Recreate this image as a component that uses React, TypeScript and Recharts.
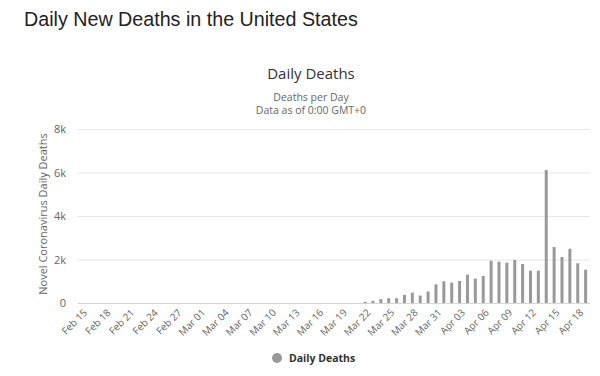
import { Bar, BarChart, CartesianGrid, XAxis, YAxis } from 'recharts';

// Feb 15 .. Apr 19, 2020
const dates = [
  'Feb 15', 'Feb 16', 'Feb 17', 'Feb 18', 'Feb 19', 'Feb 20', 'Feb 21', 'Feb 22', 'Feb 23', 'Feb 24',
  'Feb 25', 'Feb 26', 'Feb 27', 'Feb 28', 'Feb 29', 'Mar 01', 'Mar 02', 'Mar 03', 'Mar 04', 'Mar 05',
  'Mar 06', 'Mar 07', 'Mar 08', 'Mar 09', 'Mar 10', 'Mar 11', 'Mar 12', 'Mar 13', 'Mar 14', 'Mar 15',
  'Mar 16', 'Mar 17', 'Mar 18', 'Mar 19', 'Mar 20', 'Mar 21', 'Mar 22', 'Mar 23', 'Mar 24', 'Mar 25',
  'Mar 26', 'Mar 27', 'Mar 28', 'Mar 29', 'Mar 30', 'Mar 31', 'Apr 01', 'Apr 02', 'Apr 03', 'Apr 04',
  'Apr 05', 'Apr 06', 'Apr 07', 'Apr 08', 'Apr 09', 'Apr 10', 'Apr 11', 'Apr 12', 'Apr 13', 'Apr 14',
  'Apr 15', 'Apr 16', 'Apr 17', 'Apr 18', 'Apr 19',
];

const dailyDeaths = [
  0, 0, 0, 0, 0, 0, 0, 0, 0, 0,
  0, 0, 0, 0, 0, 0, 0, 0, 0, 0,
  0, 0, 0, 0, 0, 0, 0, 0, 0, 0,
  0, 0, 0, 0, 0, 0, 76, 122, 198, 244,
  244, 397, 504, 366, 550, 885, 1023, 962, 1038, 1328,
  1145, 1267, 1969, 1924, 1878, 2000, 1817, 1511, 1511, 6137,
  2595, 2137, 2519, 1847, 1557,
];

const yTicks = [0, 2000, 4000, 6000, 8000];

const data = dates.map((date, i) => ({ date, deaths: dailyDeaths[i] }));

const chartFont = '"Open Sans", "DejaVu Sans", sans-serif';

function DateTick(props: any) {
  const { x, y, payload } = props;
  return (
    <g transform={`translate(${x + 3},${y - 1})`}>
      <text
        x={0}
        y={0}
        dy={4}
        textAnchor="end"
        transform="rotate(-45)"
        fontSize={10}
        fill="#666"
        fontFamily={chartFont}
      >
        {payload.value}
      </text>
    </g>
  );
}

export default function App() {
  return (
    <div style={{ position: 'relative', width: 600, height: 376, background: '#fff', fontFamily: chartFont }}>
      <style>{'body{margin:0}'}</style>
      <div
        style={{
          position: 'absolute',
          left: 24,
          top: 8,
          fontFamily: '"Liberation Sans", Arial, sans-serif',
          fontSize: 19.7,
          color: '#222',
          whiteSpace: 'nowrap',
        }}
      >
        Daily New Deaths in the United States
      </div>
      <div style={{ position: 'absolute', left: 0, width: 622, top: 63, textAlign: 'center', fontSize: 15, color: '#333' }}>
        Daily Deaths
      </div>
      <div
        style={{
          position: 'absolute',
          left: 0,
          width: 622,
          top: 91,
          textAlign: 'center',
          fontSize: 10.5,
          lineHeight: '13px',
          color: '#666',
        }}
      >
        Deaths per Day
      </div>
      <div
        style={{
          position: 'absolute',
          left: 0,
          width: 622,
          top: 104,
          textAlign: 'center',
          fontSize: 10.5,
          lineHeight: '13px',
          color: '#666',
        }}
      >
        Data as of 0:00 GMT+0
      </div>
      <div
        style={{
          position: 'absolute',
          left: 42,
          top: 214,
          transform: 'translate(-50%, -50%) rotate(-90deg)',
          fontSize: 11,
          color: '#666',
          whiteSpace: 'nowrap',
        }}
      >
        Novel Coronavirus Daily Deaths
      </div>
      <div style={{ position: 'absolute', top: 0, left: 0 }}>
        <BarChart width={600} height={376} data={data} margin={{ top: 129.5, right: 10, left: 0, bottom: 32.5 }}>
          <CartesianGrid vertical={false} stroke="#e6e6e6" />
          <XAxis
            dataKey="date"
            interval={2}
            height={40}
            tickLine={false}
            axisLine={{ stroke: '#ccd6eb' }}
            tick={<DateTick />}
          />
          <YAxis
            width={78}
            domain={[0, 8000]}
            ticks={yTicks}
            axisLine={false}
            tickLine={false}
            tickMargin={6}
            tick={{ fontSize: 11, fill: '#666', fontFamily: chartFont }}
            tickFormatter={(v: number) => (v === 0 ? '0' : `${v / 1000}k`)}
          />
          <Bar dataKey="deaths" fill="#999" barSize={3} isAnimationActive={false} />
        </BarChart>
      </div>
      <div
        style={{
          position: 'absolute',
          left: 272,
          top: 351,
          display: 'flex',
          alignItems: 'center',
          fontSize: 10.5,
          fontWeight: 700,
          color: '#333',
        }}
      >
        <span style={{ display: 'inline-block', width: 10, height: 10, borderRadius: 5, background: '#999', marginRight: 7 }} />
        Daily Deaths
      </div>
    </div>
  );
}
